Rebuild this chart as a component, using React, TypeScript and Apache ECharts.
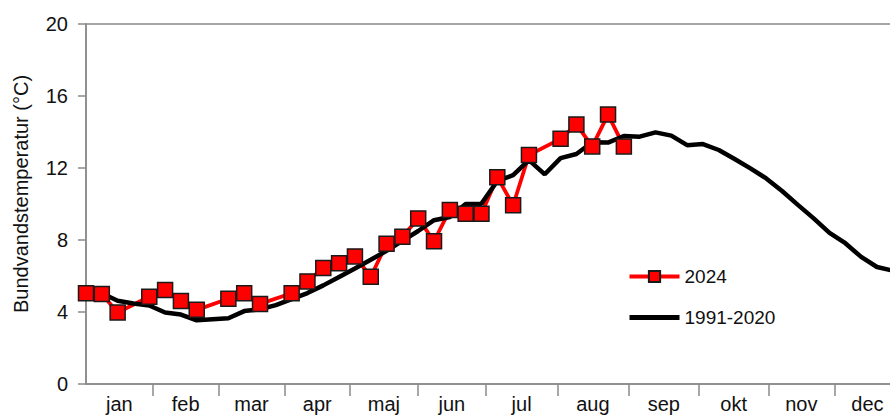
import React, { useEffect, useRef } from "react";
import * as echarts from "echarts";

// Month labels and month boundaries (in week units along the x axis)
const monthNames = ["jan", "feb", "mar", "apr", "maj", "jun", "jul", "aug", "sep", "okt", "nov", "dec"];
const monthStarts = [0, 4.22, 8.38, 12.55, 16.69, 20.97, 25.28, 29.79, 34.3, 38.75, 43.13, 47.3, 51.5];

// 2024 weekly bottom-water temperatures (week index, °C)
const weeks2024 = [0, 1, 2, 4, 5, 6, 7, 9, 10, 11, 13, 14, 15, 16, 17, 18, 19, 20, 21, 22, 23, 24, 25, 26, 27, 28, 30, 31, 32, 33, 34];
const temp2024 = [5.04, 5.0, 3.97, 4.85, 5.22, 4.61, 4.12, 4.74, 5.04, 4.45, 5.04, 5.7, 6.45, 6.71, 7.09, 5.96, 7.79, 8.18, 9.2, 7.93, 9.67, 9.46, 9.46, 11.49, 9.93, 12.72, 13.62, 14.42, 13.2, 14.97, 13.2];

// 1991-2020 normal (week index, °C)
const weeksNorm = [0, 1, 2, 3, 4, 5, 6, 7, 8, 9, 10, 11, 12, 13, 14, 15, 16, 17, 18, 19, 20, 21, 22, 23, 24, 25, 26, 27, 28, 29, 30, 31, 32, 33, 34, 35, 36, 37, 38, 39, 40, 41, 42, 43, 44, 45, 46, 47, 48, 49, 50, 51, 52];
const tempNorm = [4.9, 5.04, 4.62, 4.47, 4.36, 3.97, 3.86, 3.54, 3.6, 3.65, 4.05, 4.15, 4.38, 4.72, 5.05, 5.48, 5.95, 6.42, 6.9, 7.4, 7.95, 8.5, 9.1, 9.28, 10.0, 10.02, 11.28, 11.6, 12.44, 11.65, 12.55, 12.78, 13.43, 13.41, 13.78, 13.74, 13.98, 13.8, 13.27, 13.33, 13.0, 12.5, 11.98, 11.42, 10.72, 9.95, 9.2, 8.4, 7.82, 7.06, 6.5, 6.3, 6.1];

const seriesNames = ["2024", "1991-2020"];
const yAxisTitle = "Bundvandstemperatur (°C)";

const FONT = "'Liberation Sans', Arial, sans-serif";

export default function App() {
  const ref = useRef<HTMLDivElement>(null);

  useEffect(() => {
    if (!ref.current) return;
    const chart = echarts.init(ref.current, undefined, { renderer: "svg" });
    const monthMids = monthNames.map((_, i) => (monthStarts[i] + monthStarts[i + 1]) / 2);
    const option: any = {
      animation: false,
      backgroundColor: "#ffffff",
      textStyle: { fontFamily: FONT },
      grid: {
        left: 86,
        right: 9.3,
        top: 24,
        bottom: 31,
        show: true,
        borderColor: "#8a8a8a",
        borderWidth: 1.5,
        backgroundColor: "transparent",
      },
      xAxis: {
        type: "value",
        min: monthStarts[0],
        max: monthStarts[monthStarts.length - 1],
        splitLine: { show: false },
        axisLine: { show: true, lineStyle: { color: "#8a8a8a", width: 1.5 } },
        axisTick: {
          show: true,
          length: 12,
          customValues: monthStarts.slice(1, monthStarts.length - 1),
          lineStyle: { color: "#8a8a8a", width: 1.5 },
        },
        axisLabel: {
          customValues: monthMids,
          margin: 10,
          fontSize: 20,
          color: "#111",
          fontFamily: FONT,
          formatter: (v: number) => {
            let best = 0;
            let d = Infinity;
            monthMids.forEach((m, i) => {
              if (Math.abs(m - v) < d) {
                d = Math.abs(m - v);
                best = i;
              }
            });
            return monthNames[best];
          },
        },
      },
      yAxis: {
        type: "value",
        min: 0,
        max: 20,
        interval: 4,
        splitLine: { show: false },
        axisLine: { show: true, lineStyle: { color: "#8a8a8a", width: 1.5 } },
        axisTick: { show: true, length: 8, lineStyle: { color: "#8a8a8a", width: 1.5 } },
        axisLabel: { margin: 18, fontSize: 20, color: "#111", fontFamily: FONT },
      },
      legend: {
        orient: "vertical",
        left: 622,
        top: 262,
        padding: 5,
        itemWidth: 50,
        itemHeight: 14,
        itemGap: 22,
        textStyle: { fontSize: 19, color: "#111", fontFamily: FONT },
        data: [
          { name: seriesNames[0], lineStyle: { width: 4, color: "#ff0000" } },
          { name: seriesNames[1], lineStyle: { width: 5, color: "#000000" }, itemStyle: { opacity: 0 } },
        ],
      },
      graphic: [
        {
          type: "text",
          x: 21,
          y: 194,
          rotation: Math.PI / 2,
          style: {
            text: yAxisTitle,
            fontSize: 20,
            fontFamily: FONT,
            fill: "#111",
            textAlign: "center",
            textVerticalAlign: "middle",
          },
        },
      ],
      series: [
        {
          name: seriesNames[0],
          type: "line",
          clip: false,
          data: weeks2024.map((w, i) => [w, temp2024[i]]),
          symbol: "rect",
          symbolSize: 15,
          lineStyle: { color: "#ff0000", width: 3.8 },
          itemStyle: { color: "#ff0000", borderColor: "#1a1a1a", borderWidth: 1.5 },
        },
        {
          name: seriesNames[1],
          type: "line",
          clip: true,
          data: weeksNorm.map((w, i) => [w, tempNorm[i]]),
          symbol: "none",
          showSymbol: false,
          lineStyle: { color: "#000000", width: 4.5 },
          itemStyle: { color: "#000000" },
        },
      ],
    };
    chart.setOption(option);
    return () => chart.dispose();
  }, []);

  return (
    <div style={{ position: "fixed", left: 0, top: 0, width: 890, height: 415, overflow: "hidden", background: "#fff" }}>
      <div ref={ref} style={{ width: 910, height: 415 }} />
    </div>
  );
}
